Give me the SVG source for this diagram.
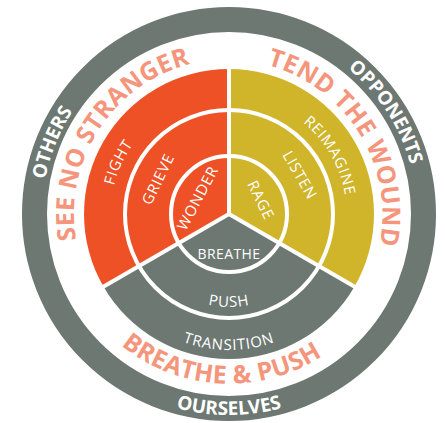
<svg xmlns="http://www.w3.org/2000/svg" width="445" height="423" viewBox="0 0 445 423">
<style>
  .ring{font-family:"Open Sans","DejaVu Sans",sans-serif;font-weight:700;font-size:19px;fill:#ffffff;}
  .big{font-family:"Open Sans","DejaVu Sans",sans-serif;font-weight:700;font-size:25px;fill:#F4957C;letter-spacing:0.3px;}
  .lbl{font-family:"Open Sans","DejaVu Sans",sans-serif;font-weight:400;font-size:15px;fill:#ffffff;letter-spacing:0.8px;}
  .div{stroke:#ffffff;stroke-width:4;fill:none;}
</style>
<defs>
  <path id="pOthers" d="M158.58,388.31 A188,188 0 0 1 299.42,39.69"/>
  <path id="pOpp" d="M126.61,56.32 A188,188 0 0 1 331.39,371.68"/>
  <path id="pOurs" d="M28,214 A201,201 0 0 0 430,214"/>
  <path id="pSee" d="M144.59,344 A155,155 0 0 1 313.41,84"/>
  <path id="pTend" d="M146.87,82.56 A155,155 0 0 1 311.13,345.44"/>
  <path id="pBP" d="M58.24,205.05 A171,171 0 0 0 399.76,222.95"/>
  <path id="pFight" d="M178.71,321.85 A119,119 0 0 1 279.29,106.15"/>
  <path id="pReim" d="M170,111.81 A118,118 0 0 1 288,316.19"/>
  <path id="pPush" d="M136,214 A93,93 0 0 0 322,214"/>
  <path id="pTrans" d="M93,214 A136,136 0 0 0 365,214"/>
</defs>
<rect width="445" height="423" fill="#ffffff"/>
<g id="outer-ring">
  <circle cx="229" cy="214" r="194.5" fill="none" stroke="#6D7872" stroke-width="25"/>
  <text class="ring"><textPath href="#pOthers" startOffset="50%" text-anchor="middle">OTHERS</textPath></text>
  <text class="ring"><textPath href="#pOpp" startOffset="50%" text-anchor="middle">OPPONENTS</textPath></text>
  <text class="ring"><textPath href="#pOurs" startOffset="50%" text-anchor="middle">OURSELVES</textPath></text>
</g>
<g id="see-no-stranger">
  <path d="M229,214 L103.43,286.5 A145,145 0 0 1 229,69 Z" fill="#EE5125"/>
  <text class="big"><textPath href="#pSee" startOffset="50%" text-anchor="middle">SEE NO STRANGER</textPath></text>
</g>
<g id="tend-the-wound">
  <path d="M229,214 L229,69 A145,145 0 0 1 354.57,286.5 Z" fill="#D0B52B"/>
  <text class="big"><textPath href="#pTend" startOffset="50%" text-anchor="middle">TEND THE WOUND</textPath></text>
</g>
<g id="breathe-push">
  <path d="M229,214 L354.57,286.5 A145,145 0 0 1 103.43,286.5 Z" fill="#6D7872"/>
  <text class="big"><textPath href="#pBP" startOffset="50%" text-anchor="middle">BREATHE &amp; PUSH</textPath></text>
</g>
<g id="connectors">
  <circle class="div" cx="229" cy="214" r="58"/>
  <circle class="div" cx="229" cy="214" r="104"/>
  <line class="div" x1="229" y1="214" x2="229" y2="66"/>
  <line class="div" x1="229" y1="214" x2="356" y2="287.5"/>
  <line class="div" x1="229" y1="214" x2="102" y2="287.5"/>
</g>
<g id="fight"><text class="lbl"><textPath href="#pFight" startOffset="50%" text-anchor="middle">FIGHT</textPath></text></g>
<g id="grieve"><text class="lbl" transform="translate(158,179) rotate(-64)" text-anchor="middle" dy="0.36em">GRIEVE</text></g>
<g id="wonder"><text class="lbl" transform="translate(197.5,198) rotate(-62)" text-anchor="middle" dy="0.36em">WONDER</text></g>
<g id="reimagine"><text class="lbl"><textPath href="#pReim" startOffset="50%" text-anchor="middle">REIMAGINE</textPath></text></g>
<g id="listen"><text class="lbl" transform="translate(300,175) rotate(60)" text-anchor="middle" dy="0.36em">LISTEN</text></g>
<g id="rage"><text class="lbl" transform="translate(261,200) rotate(64)" text-anchor="middle" dy="0.36em">RAGE</text></g>
<g id="breathe"><text class="lbl" transform="translate(229,253.5)" text-anchor="middle" dy="0.36em" style="font-size:14px;letter-spacing:0.4px">BREATHE</text></g>
<g id="push"><text class="lbl"><textPath href="#pPush" startOffset="50%" text-anchor="middle">PUSH</textPath></text></g>
<g id="transition"><text class="lbl"><textPath href="#pTrans" startOffset="50%" text-anchor="middle">TRANSITION</textPath></text></g>
</svg>
